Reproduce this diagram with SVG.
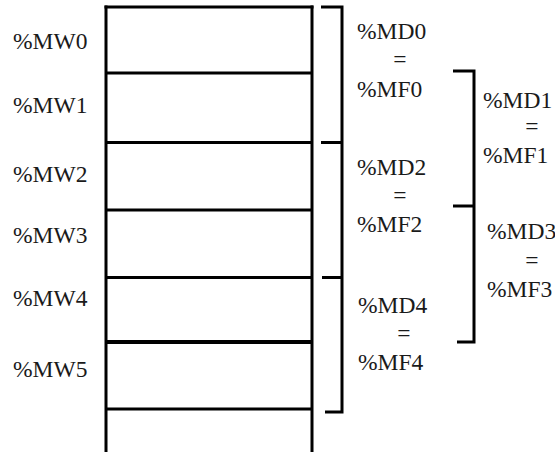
<svg xmlns="http://www.w3.org/2000/svg" width="555" height="452" viewBox="0 0 555 452">
<style>
  text { font-family: "Liberation Serif", "Times New Roman", "DejaVu Serif", serif; font-size: 23.5px; fill: #1a1a1a; }
  .eq { text-anchor: middle; }
  .ln { stroke: #000; stroke-width: 3; fill: none; stroke-linecap: butt; }
</style>
<rect width="555" height="452" fill="#fff"/>
<g id="memory-column">
  <line class="ln" x1="106" y1="5.5" x2="106" y2="452"/>
  <line class="ln" x1="312" y1="5.5" x2="312" y2="452"/>
  <line class="ln" x1="104.5" y1="7" x2="313.5" y2="7"/>
  <line class="ln" x1="106" y1="73" x2="312" y2="73"/>
  <line class="ln" x1="106" y1="142.5" x2="312" y2="142.5"/>
  <line class="ln" x1="106" y1="210" x2="312" y2="210"/>
  <line class="ln" x1="106" y1="277.5" x2="312" y2="277.5"/>
  <line class="ln" x1="106" y1="342" x2="312" y2="342" style="stroke-width:4"/>
  <line class="ln" x1="106" y1="409" x2="312" y2="409"/>
</g>
<g id="word-labels" font-family="Liberation Serif, serif">
  <text x="13" y="49">%MW0</text>
  <text x="13" y="113">%MW1</text>
  <text x="13" y="182">%MW2</text>
  <text x="13" y="243">%MW3</text>
  <text x="13" y="306">%MW4</text>
  <text x="13" y="377">%MW5</text>
</g>
<g id="connectors">
  <path class="ln" d="M321 7 H342 V412 H325"/>
  <path class="ln" d="M321 142.5 H342"/>
  <path class="ln" d="M322 277.5 H342"/>
  <path class="ln" d="M453 71 H474 V342 H457"/>
  <path class="ln" d="M453 206 H474"/>
</g>
<g id="md0">
  <text x="357" y="39">%MD0</text>
  <text class="eq" x="400" y="67">=</text>
  <text x="357" y="97">%MF0</text>
</g>
<g id="md2">
  <text x="357" y="175">%MD2</text>
  <text class="eq" x="400" y="203">=</text>
  <text x="357" y="232">%MF2</text>
</g>
<g id="md4">
  <text x="358" y="313">%MD4</text>
  <text class="eq" x="404" y="341">=</text>
  <text x="358" y="370">%MF4</text>
</g>
<g id="md1">
  <text x="483" y="108">%MD1</text>
  <text class="eq" x="532" y="134">=</text>
  <text x="483" y="163">%MF1</text>
</g>
<g id="md3">
  <text x="487" y="239">%MD3</text>
  <text class="eq" x="532" y="268">=</text>
  <text x="487" y="297">%MF3</text>
</g>
</svg>
